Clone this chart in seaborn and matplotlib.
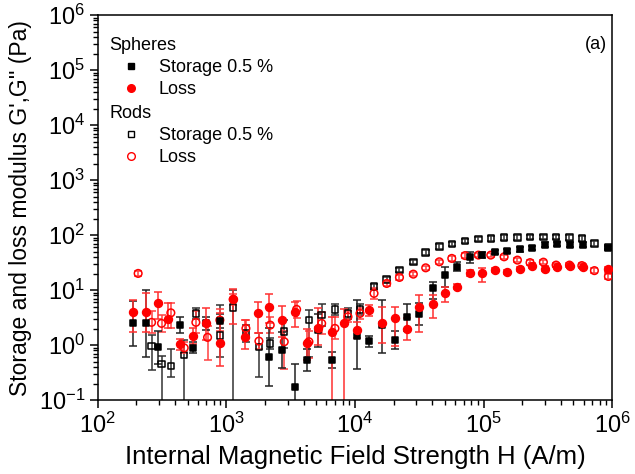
import numpy as np
import pandas as pd
import matplotlib
matplotlib.use("Agg")
import matplotlib.pyplot as plt
from matplotlib.lines import Line2D
from matplotlib.ticker import LogLocator, NullFormatter
import seaborn as sns

# ---- spheres, storage modulus G' (filled black squares) ----
sph_stor_H = [188, 237, 294, 434, 546, 689, 890, 2152, 2689, 3414, 4209, 5178, 6587,
              10310, 12910, 16130, 20480, 25520, 31480, 40090, 50120, 62520, 78520, 97940,
              122800, 153100, 192300, 239900, 301300, 371500, 471400, 591600, 935400]
sph_stor_G = [2.48, 2.48, 0.91, 2.31, 0.89, 2.48, 2.73, 0.61, 0.81, 0.175, 0.53, 1.87, 0.53,
              1.46, 1.18, 2.3, 1.23, 3.19, 3.66, 11.1, 18.7, 26.5, 40.3, 43.3,
              49.7, 51.9, 55.0, 58.8, 67.2, 68.5, 67.2, 67.2, 58.0]
# error bars in decades (below / above)
sph_stor_lo = [0.41, 0.62, 0.3, 0.15, 0.1, 0.12, 0.12, 0.53, 0.33, 0.41, 0.2, 0.3, 0.15,
               0.6, 0.1, 0.5, 0.17, 0.24, 0.2, 0.2, 0.22, 0.08, 0.12, 0.05,
               0.04, 0.04, 0.04, 0.04, 0.04, 0.04, 0.04, 0.04, 0.04]
sph_stor_hi = [0.41, 0.6, 0.3, 0.15, 0.1, 0.12, 0.12, 0.53, 0.33, 0.41, 0.2, 0.3, 0.15,
               0.65, 0.1, 0.45, 0.17, 0.24, 0.2, 0.1, 0.14, 0.08, 0.09, 0.05,
               0.04, 0.04, 0.04, 0.04, 0.04, 0.04, 0.04, 0.04, 0.04]

# ---- spheres, loss modulus G'' (filled red circles) ----
sph_loss_H = [188, 237, 294, 349, 434, 546, 689, 890, 1130, 1393, 1767, 2152, 2689, 3414,
              4209, 5178, 6587, 8260, 10310, 12910, 16130, 20480, 25520, 31480, 40090,
              50120, 62520, 78520, 97940, 122800, 153100, 192300, 239900, 301300, 371500,
              471400, 591600, 935400]
sph_loss_G = [4.03, 3.93, 5.88, 2.93, 1.03, 1.46, 2.48, 1.07, 6.78, 1.42, 3.77, 4.97, 2.85, 4.03,
              1.09, 2.01, 1.75, 2.48, 1.87, 4.33, 2.48, 3.06, 1.95, 4.97, 5.56,
              8.7, 11.5, 20.6, 20.1, 23.1, 21.5, 24.1, 28.0, 24.6, 26.7,
              27.3, 26.7, 23.8]
sph_loss_lo = [0.36, 0.35, 0.3, 0.15, 0.1, 0.15, 0.3, 0.41, 0.45, 0.23, 0.36, 0.3, 0.3, 0.27,
               0.3, 0.3, 3.0, 3.0, 0.15, 0.1, 0.35, 0.5, 0.2, 0.46, 0.25,
               0.15, 0.05, 0.05, 0.15, 0.04, 0.04, 0.04, 0.04, 0.04, 0.04,
               0.04, 0.04, 0.04]
sph_loss_hi = [0.21, 0.35, 0.2, 0.3, 0.1, 0.15, 0.28, 0.55, 0.18, 0.3, 0.2, 0.23, 0.25, 0.17,
               0.25, 0.37, 0.27, 0.27, 0.15, 0.1, 0.3, 0.2, 0.2, 0.21, 0.16,
               0.12, 0.05, 0.05, 0.1, 0.04, 0.04, 0.04, 0.04, 0.04, 0.04,
               0.04, 0.04, 0.04]

# ---- rods, storage modulus G' (open black squares) ----
rod_stor_H = [262, 313, 370, 470, 579, 890, 1130, 1419, 1791, 2193, 2818, 4385, 5508, 6988,
              8826, 10940, 14070, 17650, 22190, 28430, 35490, 45290, 56600, 71830, 91180,
              113800, 144500, 183400, 230000, 292000, 366600, 465800, 581000, 728100, 935400]
rod_stor_G = [0.96, 0.45, 0.42, 0.66, 3.77, 1.48, 4.84, 1.63, 0.93, 1.07, 1.75, 2.85, 3.51, 4.46,
              3.77, 4.46, 11.5, 15.7, 23.1, 32.7, 48.4, 62.4, 69.2, 78.8, 84.6,
              87.1, 90.8, 90.8, 93.1, 93.1, 93.1, 90.8, 87.1, 70.6, 60.5]
rod_stor_lo = [0.44, 3.0, 0.2, 3.0, 0.1, 0.38, 3.0, 0.15, 0.55, 0.1, 0.3, 0.67, 0.2, 0.1,
               0.1, 0.1, 0.05, 0.04, 0.04, 0.04, 0.04, 0.04, 0.04, 0.04, 0.04,
               0.04, 0.04, 0.04, 0.04, 0.04, 0.04, 0.04, 0.04, 0.04, 0.04]
rod_stor_hi = [0.2, 0.15, 0.31, 0.27, 0.1, 0.56, 0.32, 0.15, 0.25, 0.1, 0.21, 0.18, 0.2, 0.1,
               0.1, 0.1, 0.05, 0.04, 0.04, 0.04, 0.04, 0.04, 0.04, 0.04, 0.04,
               0.04, 0.04, 0.04, 0.04, 0.04, 0.04, 0.04, 0.04, 0.04, 0.04]

# ---- rods, loss modulus G'' (open red circles) ----
rod_loss_H = [206, 262, 313, 370, 470, 579, 714, 890, 1130, 1419, 1791, 2193, 2818, 3518,
              4385, 5508, 6988, 8826, 10940, 14070, 17650, 22190, 28430, 35490, 45290,
              56600, 71830, 91180, 113800, 144500, 183400, 230000, 292000, 366600, 465800,
              581000, 728100, 935400]
rod_loss_G = [20.1, 2.59, 2.48, 3.86, 0.89, 2.59, 1.38, 2.85, 6.78, 2.01, 1.18, 2.31, 1.15, 4.46,
              1.15, 2.48, 2.01, 3.27, 3.77, 8.7, 13.2, 17.0, 19.5, 25.4, 32.7,
              37.7, 42.4, 43.3, 43.3, 40.3, 35.1, 31.6, 32.2, 28.5, 28.5,
              27.9, 22.6, 17.7]
rod_loss_lo = [0.05, 0.2, 0.15, 0.28, 0.1, 0.2, 0.42, 0.2, 0.1, 0.15, 0.15, 0.15, 0.5, 0.15,
               0.3, 0.2, 0.2, 0.1, 0.1, 0.1, 0.05, 0.04, 0.04, 0.04, 0.04,
               0.04, 0.04, 0.04, 0.04, 0.04, 0.04, 0.04, 0.04, 0.04, 0.04,
               0.04, 0.04, 0.04]
rod_loss_hi = [0.05, 0.2, 0.15, 0.17, 0.1, 0.2, 0.2, 0.2, 0.1, 0.15, 0.15, 0.15, 0.2, 0.15,
               0.2, 0.2, 0.2, 0.1, 0.1, 0.1, 0.05, 0.04, 0.04, 0.04, 0.04,
               0.04, 0.04, 0.04, 0.04, 0.04, 0.04, 0.04, 0.04, 0.04, 0.04,
               0.04, 0.04, 0.04]

legend_labels = ["Storage 0.5 %", "Loss"]

sns.set_style("ticks")
plt.rcParams["font.family"] = ["Liberation Sans", "DejaVu Sans"]
plt.rcParams["mathtext.fontset"] = "custom"
plt.rcParams["mathtext.rm"] = "Liberation Sans"
plt.rcParams["mathtext.it"] = "Liberation Sans:italic"
plt.rcParams["axes.linewidth"] = 1.1
for key in ["text.color", "axes.labelcolor", "xtick.color", "ytick.color", "axes.edgecolor"]:
    plt.rcParams[key] = "black"


def add_series(ax, H, G, lo, hi, marker, face, edge, ecolor, size):
    G = np.asarray(G, float)
    lower = G - G * 10.0 ** (-np.asarray(lo, float))
    upper = G * 10.0 ** np.asarray(hi, float) - G
    ax.errorbar(H, G, yerr=[lower, upper], fmt="none", ecolor=ecolor,
                elinewidth=1.1, capsize=3.2, capthick=1.1, zorder=2)
    df = pd.DataFrame({"H": H, "G": G})
    sns.scatterplot(data=df, x="H", y="G", ax=ax, marker=marker, s=size,
                    facecolor=face, edgecolor=edge, linewidth=1.1, zorder=3, legend=False)


fig = plt.figure(figsize=(6.35, 4.74), dpi=100)
ax = fig.add_axes([0.154, 0.156, 0.81, 0.812])

add_series(ax, rod_stor_H, rod_stor_G, rod_stor_lo, rod_stor_hi, "s", "none", "black", "#333333", 22)
add_series(ax, rod_loss_H, rod_loss_G, rod_loss_lo, rod_loss_hi, "o", "none", "red", "#ff4040", 30)
add_series(ax, sph_stor_H, sph_stor_G, sph_stor_lo, sph_stor_hi, "s", "black", "black", "#222222", 24)
add_series(ax, sph_loss_H, sph_loss_G, sph_loss_lo, sph_loss_hi, "o", "red", "red", "#ff3030", 32)

ax.set_xscale("log")
ax.set_yscale("log")
ax.set_xlim(1e2, 1e6)
ax.set_ylim(1e-1, 1e6)
ax.xaxis.set_major_locator(LogLocator(base=10, numticks=10))
ax.yaxis.set_major_locator(LogLocator(base=10, numticks=10))
ax.xaxis.set_minor_locator(LogLocator(base=10, subs=np.arange(2, 10), numticks=20))
ax.yaxis.set_minor_locator(LogLocator(base=10, subs=np.arange(2, 10), numticks=20))
ax.xaxis.set_minor_formatter(NullFormatter())
ax.yaxis.set_minor_formatter(NullFormatter())
ax.tick_params(which="major", direction="out", length=6, width=1.1, labelsize=17, pad=3,
               top=False, right=False)
ax.tick_params(which="minor", direction="out", length=3.5, width=1.0, top=False, right=False)
for sp in ax.spines.values():
    sp.set_linewidth(1.1)
    sp.set_color("black")

ax.set_xlabel("Internal Magnetic Field Strength H (A/m)", fontsize=18.5, labelpad=5)
ax.set_ylabel("Storage and loss modulus G',G'' (Pa)", fontsize=16.5, labelpad=5)

ax.text(0.990, 0.925, "(a)", transform=ax.transAxes, ha="right", va="center", fontsize=13)

h_sph = [Line2D([], [], ls="none", marker="s", ms=4.5, mfc="black", mec="black"),
         Line2D([], [], ls="none", marker="o", ms=5.5, mfc="red", mec="red")]
h_rod = [Line2D([], [], ls="none", marker="s", ms=4.5, mfc="none", mec="black", mew=1),
         Line2D([], [], ls="none", marker="o", ms=5.5, mfc="none", mec="red", mew=1)]
common = dict(loc="upper left", frameon=False, fontsize=13, title_fontsize=13,
              alignment="left", handlelength=2.4, handletextpad=0.33, borderpad=0,
              borderaxespad=0, labelspacing=0.27)
leg1 = ax.legend(h_sph, legend_labels, title="Spheres", bbox_to_anchor=(0.023, 0.943), **common)
ax.add_artist(leg1)
ax.legend(h_rod, legend_labels, title="Rods", bbox_to_anchor=(0.023, 0.766), **common)

fig.savefig("out.png", dpi=100)
